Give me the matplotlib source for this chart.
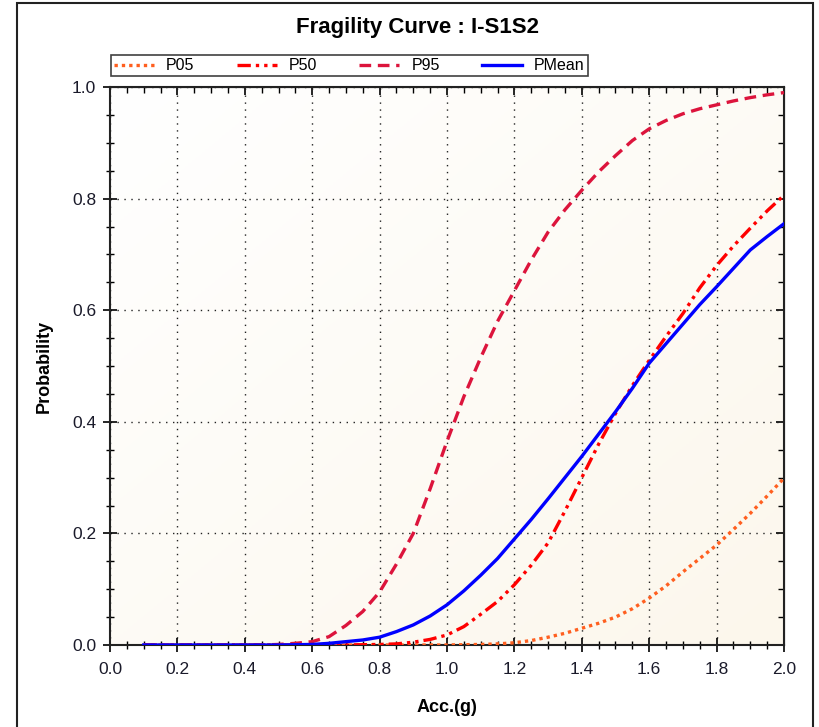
import numpy as np
import matplotlib
matplotlib.use('Agg')
import matplotlib.pyplot as plt
from matplotlib.patches import Rectangle
from matplotlib.ticker import MultipleLocator, FormatStrFormatter
from matplotlib.colors import LinearSegmentedColormap

plt.rcParams['font.family'] = ['Liberation Sans', 'DejaVu Sans']

# acceleration (g), sampled every 0.05 g
acc = [0.10, 0.15, 0.20, 0.25, 0.30, 0.35, 0.40, 0.45, 0.50, 0.55,
       0.60, 0.65, 0.70, 0.75, 0.80, 0.85, 0.90, 0.95, 1.00, 1.05,
       1.10, 1.15, 1.20, 1.25, 1.30, 1.35, 1.40, 1.45, 1.50, 1.55,
       1.60, 1.65, 1.70, 1.75, 1.80, 1.85, 1.90, 1.95, 2.00]

p05 = [0, 0, 0, 0, 0, 0, 0, 0, 0, 0,
       0, 0, 0, 0, 0, 0, 0, 0, 0.0, 0.0005,
       0.001, 0.002, 0.004, 0.008, 0.014, 0.021, 0.030, 0.039, 0.050, 0.065,
       0.084, 0.106, 0.131, 0.155, 0.179, 0.207, 0.236, 0.267, 0.299]

p50 = [0, 0, 0, 0, 0, 0, 0, 0, 0, 0,
       0, 0, 0.0002, 0.0005, 0.001, 0.002, 0.005, 0.010, 0.018, 0.033,
       0.055, 0.078, 0.108, 0.143, 0.183, 0.240, 0.300, 0.360, 0.415, 0.465,
       0.510, 0.553, 0.594, 0.640, 0.680, 0.715, 0.747, 0.778, 0.806]

p95 = [0, 0, 0, 0, 0, 0, 0, 0, 0.001, 0.003,
       0.006, 0.015, 0.035, 0.060, 0.095, 0.145, 0.200, 0.280, 0.365, 0.445,
       0.515, 0.580, 0.635, 0.690, 0.740, 0.780, 0.815, 0.848, 0.877, 0.904,
       0.925, 0.940, 0.952, 0.961, 0.968, 0.975, 0.981, 0.986, 0.990]

pmean = [0, 0, 0, 0, 0, 0, 0, 0, 0, 0.0005,
         0.001, 0.003, 0.006, 0.009, 0.014, 0.024, 0.036, 0.052, 0.072, 0.097,
         0.125, 0.155, 0.190, 0.225, 0.262, 0.300, 0.338, 0.378, 0.418, 0.460,
         0.505, 0.540, 0.575, 0.610, 0.642, 0.675, 0.708, 0.732, 0.755]

fig = plt.figure(figsize=(8.19, 7.27), dpi=100)
fig.patches.append(Rectangle((17/819, -0.1), (813-17)/819, 1.1 - 3/727,
                             transform=fig.transFigure, fill=False,
                             edgecolor='#222222', linewidth=1.5))

ax = fig.add_axes([110/819, 1 - 645/727, (784-110)/819, (645-87)/727])

# faint cream gradient in the plot area
gx, gy = np.meshgrid(np.linspace(0, 1, 200), np.linspace(0, 1, 200))
grad = (gx + gy) / 2
cmap = LinearSegmentedColormap.from_list('cream', ['#ffffff', '#fcf7ec'])
ax.imshow(grad, extent=[0, 1, 0, 1], transform=ax.transAxes, cmap=cmap,
          aspect='auto', zorder=0, origin='upper')

ax.plot(acc, p05, color='#ff5f1f', lw=2.4, linestyle=(0, (1, 1.2)), label='P05', zorder=3)
ax.plot(acc, p50, color='#ff0000', lw=2.4, linestyle=(0, (4, 1.5, 1, 1.5, 1, 1.5)), label='P50', zorder=3)
ax.plot(acc, p95, color='#dc143c', lw=2.4, linestyle=(0, (3.5, 2)), label='P95', zorder=3)
ax.plot(acc, pmean, color='#0000ff', lw=2.4, linestyle='-', label='PMean', zorder=4)

ax.set_xlim(0, 2.0)
ax.set_ylim(0, 1.0)
ax.xaxis.set_major_locator(MultipleLocator(0.2))
ax.xaxis.set_minor_locator(MultipleLocator(0.05))
ax.yaxis.set_major_locator(MultipleLocator(0.2))
ax.yaxis.set_minor_locator(MultipleLocator(0.05))
ax.xaxis.set_major_formatter(FormatStrFormatter('%.1f'))
ax.yaxis.set_major_formatter(FormatStrFormatter('%.1f'))

ax.grid(True, which='major', color='#222222', linestyle=(0, (1, 4)), linewidth=1)
ax.tick_params(which='major', direction='inout', length=10, width=1.2, labelsize=12.5,
               pad=5, labelcolor='#1a1a2a')
ax.tick_params(axis='x', which='major', pad=7)
ax.tick_params(which='minor', direction='inout', length=6, width=1.0)
for s in ax.spines.values():
    s.set_linewidth(1.5)
    s.set_color('#222222')

top = ax.secondary_xaxis('top')
top.xaxis.set_major_locator(MultipleLocator(0.2))
top.xaxis.set_minor_locator(MultipleLocator(0.05))
top.tick_params(which='major', direction='in', length=6, width=1.2, labeltop=False)
top.tick_params(which='minor', direction='in', length=4, width=1.0)
right = ax.secondary_yaxis('right')
right.yaxis.set_major_locator(MultipleLocator(0.2))
right.yaxis.set_minor_locator(MultipleLocator(0.05))
right.tick_params(which='major', direction='in', length=6, width=1.2, labelright=False)
right.tick_params(which='minor', direction='in', length=4, width=1.0)

ax.set_xlabel('Acc.(g)', fontsize=13, fontweight='bold', labelpad=16)
ax.set_ylabel('Probability', fontsize=13, fontweight='bold', labelpad=14)
fig.text(417/819, 1 - 28/727, 'Fragility Curve : I-S1S2', fontsize=16,
         fontweight='bold', ha='center', va='center')

leg = fig.legend(loc='upper left', bbox_to_anchor=(111/819, 1 - 55/727), ncol=4,
                 frameon=True, fancybox=False, edgecolor='#111111', fontsize=11.5,
                 handlelength=2.5, handletextpad=0.75, columnspacing=2.65,
                 borderpad=0.2, borderaxespad=0)
leg.get_frame().set_linewidth(1.2)

fig.savefig('out.png', dpi=100)
